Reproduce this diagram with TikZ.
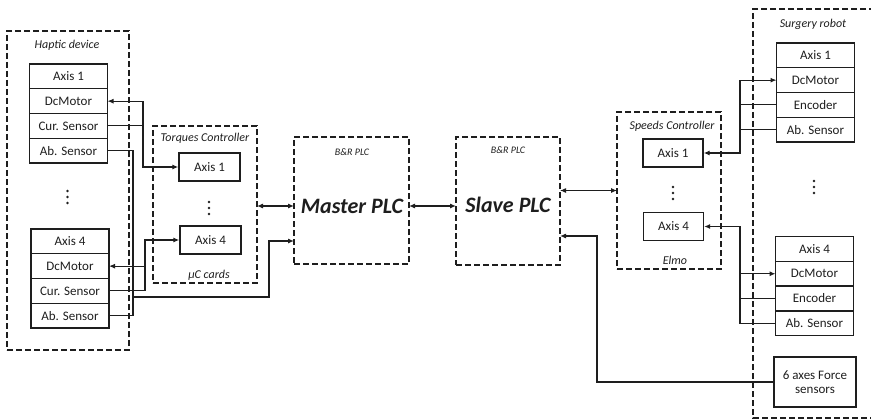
\documentclass[tikz,border=0pt]{standalone}
\usepackage{fontspec}
\setmainfont{Carlito}
\usetikzlibrary{arrows.meta,positioning}
\definecolor{Linea}{HTML}{1E1E1E}

\begin{document}
\begin{tikzpicture}[
  x=1pt,y=-1pt,
  >=Latex,
  every node/.style={font=\fontsize{13}{14}\selectfont,text=Linea},
  node distance=0pt,
  cell/.style={draw=Linea,line width=1.4pt,outer sep=0pt,inner sep=0pt,
    minimum width=78pt,minimum height=24.75pt},
  axbox/.style={draw=Linea,line width=1.4pt,inner sep=0pt,
    minimum width=61pt,minimum height=28pt},
  group/.style={draw=Linea,line width=1.3pt,dash pattern=on 6pt off 3pt,
    inner sep=0pt,outer sep=0pt},
  tag/.style={font=\itshape\fontsize{12}{13}\selectfont},
  small tag/.style={font=\itshape\fontsize{10}{12}\selectfont},
  plc/.style={font=\bfseries\itshape\fontsize{22}{24}\selectfont},
  dot/.style={circle,fill=Linea,inner sep=0pt,minimum size=2.8pt},
  link/.style={-{Latex[length=6pt,width=5pt]},line width=1.1pt,draw=Linea},
  wire/.style={line width=1.1pt,draw=Linea},
  both/.style={{Latex[length=6pt,width=5pt]}-{Latex[length=6pt,width=5pt]},line width=1.1pt,draw=Linea}
]
  \useasboundingbox (0,0) rectangle (871,420);

  % Grupos punteados
  \node[group,minimum width=122pt,minimum height=319pt] (hap) at (68,190.5) {};
  \node[group,minimum width=104pt,minimum height=157pt] (torq) at (205,204.5) {};
  \node[group,minimum width=115pt,minimum height=127pt] (master) at (351.5,200.5) {};
  \node[group,minimum width=104pt,minimum height=128pt] (slave) at (508,201) {};
  \node[group,minimum width=104pt,minimum height=157pt] (speeds) at (669,190.5) {};
  \draw[group] (875,9) -- (753,9) -- (753,418) -- (875,418);

  \node[tag] at (67,45) {Haptic device};
  \node[tag] at (205,138) {Torques Controller};
  \node[tag] at (209,275) {µC cards};
  \node[small tag] at (352,152) {B\&R PLC};
  \node[small tag] at (508,150) {B\&R PLC};
  \node[tag] at (672,126) {Speeds Controller};
  \node[tag] at (675,260) {Elmo};
  \node[tag] at (813,24) {Surgery robot};

  \node[plc] (mtext) at (352,206) {Master PLC};
  \node[plc] (stext) at (508,205) {Slave PLC};

  % Puntos suspensivos
  \foreach \px/\py in {67.5/191, 209/202, 673/187, 814/181}
    \foreach \k in {0,1,2}
      \node[dot] at (\px,\py+6*\k) {};

  % Dispositivo háptico
  \node[cell] (hA1) at (68.5,76.4) {Axis 1};
  \node[cell,below=of hA1] (hM1) {DcMotor};
  \node[cell,below=of hM1] (hC1) {Cur. Sensor};
  \node[cell,below=of hC1] (hS1) {Ab. Sensor};
  \node[cell] (hA4) at (70,241.4) {Axis 4};
  \node[cell,below=of hA4] (hM4) {DcMotor};
  \node[cell,below=of hM4] (hC4) {Cur. Sensor};
  \node[cell,below=of hC4] (hS4) {Ab. Sensor};

  % Controlador de pares
  \node[axbox] (tq1) at (209.5,167) {Axis 1};
  \node[axbox] (tq4) at (210.5,240) {Axis 4};

  % Controlador de velocidades
  \node[axbox,minimum width=60pt] (sp1) at (673,153) {Axis 1};
  \node[axbox,minimum width=60pt] (sp4) at (673.5,226.5) {Axis 4};

  % Robot quirúrgico
  \node[cell] (rA1) at (815.5,55.4) {Axis 1};
  \node[cell,below=of rA1] (rM1) {DcMotor};
  \node[cell,below=of rM1] (rE1) {Encoder};
  \node[cell,below=of rE1] (rS1) {Ab. Sensor};
  \node[cell] (rA4) at (814.5,249) {Axis 4};
  \node[cell,below=of rA4] (rM4) {DcMotor};
  \node[cell,below=of rM4] (rE4) {Encoder};
  \node[cell,below=of rE4] (rS4) {Ab. Sensor};
  \node[cell,minimum width=82pt,minimum height=50pt,align=center] (force) at (815,382)
    {6 axes Force\\sensors};

  % Puntos de unión
  \coordinate (jt1) at (143,0);
  \coordinate (jt4) at (145,0);
  \coordinate (ab) at (133,297);
  \coordinate (abm) at (269,241);
  \coordinate (jr) at (740,0);
  \coordinate (jf) at (597,236);

  % Conexiones lado háptico
  \draw[link] (hC1.east) -| (jt1 |- tq1.west) -- (tq1.west);
  \draw[link] (jt1 |- tq1.west) |- (hM1.east);
  \draw[link] (hC4.east) -| (jt4 |- tq4.west) -- (tq4.west);
  \draw[link] (jt4 |- hC4.east) |- (hM4.east);
  \draw[wire] (hS1.east) -| (ab |- hS4.east) -- (hS4.east);
  \draw[link] (ab) -| (abm) -- (abm -| master.west);

  % Enlaces entre controladores
  \draw[both] (torq.east |- mtext) -- (master.west |- mtext);
  \draw[both] (master.east |- mtext) -- (slave.west |- mtext);
  \draw[both] (slave.east |- speeds) -- (speeds.west);

  % Conexiones lado robot
  \draw[link] (rS1.west) -| (jr |- sp1.east) -- (sp1.east);
  \draw[wire] (rE1.west) -- (rE1.west -| jr);
  \draw[link] (jr |- sp1.east) |- (rM1.west);
  \draw[link] (rS4.west) -| (jr |- sp4.east) -- (sp4.east);
  \draw[wire] (rE4.west) -- (rE4.west -| jr);
  \draw[link] (rM4.west -| jr) -- (rM4.west);
  \draw[link] (force.west) -| (jf) -- (jf -| slave.east);
\end{tikzpicture}
\end{document}
